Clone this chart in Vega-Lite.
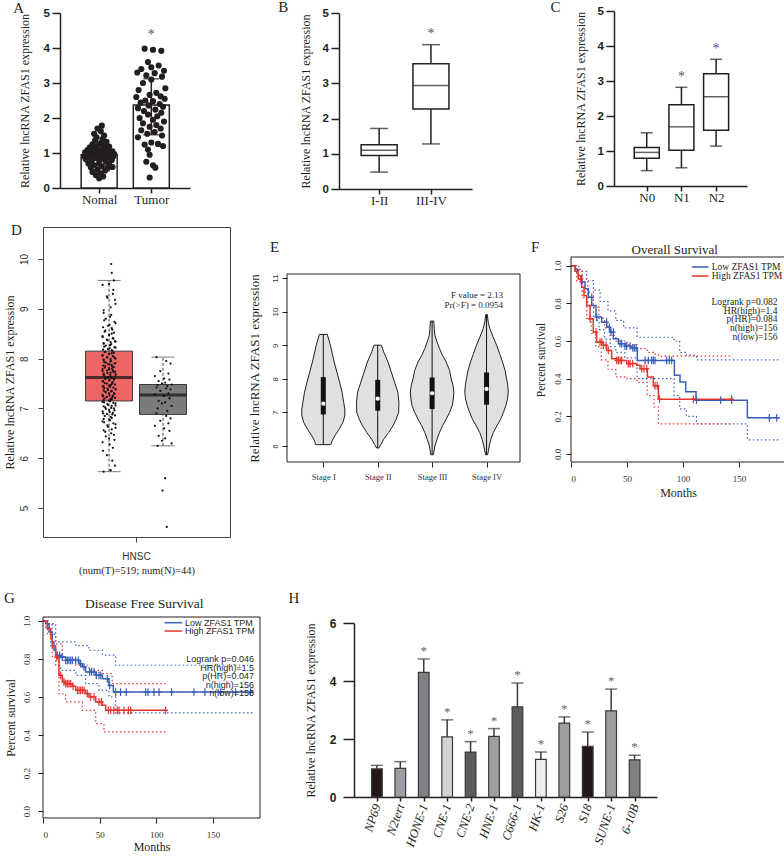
{
"$schema": "https://vega.github.io/schema/vega-lite/v6.json",
"background": "white",
"padding": {"left": 2, "top": 0, "right": 0, "bottom": 0},
"columns": 3,
"align": "each",
"bounds": "flush",
"spacing": {"row": 38, "column": 27},
"resolve": {"scale": {"color": "independent"}},
"config": {
  "view": {"stroke": null},
  "axis": {"grid": false, "labelOverlap": false, "domainColor": "#231f20", "tickColor": "#231f20", "labelColor": "#231f20", "titleColor": "#231f20", "titleFontWeight": "normal"}
},
"datasets": {
  "A_sum": [
    {"group": "Nomal", "pos": 1, "mean": 0.95, "lo": 0.64, "hi": 1.3, "top": 1.78, "sig": ""},
    {"group": "Tumor", "pos": 2, "mean": 2.37, "lo": 1.52, "hi": 3.12, "top": 3.98, "sig": "*"}
  ],
  "A_pts": [
    {"group":"Nomal","value":0.28,"x":1.0},{"group":"Nomal","value":0.33,"x":1.077},{"group":"Nomal","value":0.37,"x":0.936},{"group":"Nomal","value":0.42,"x":1.032},{"group":"Nomal","value":0.46,"x":0.872},{"group":"Nomal","value":0.5,"x":1.115},{"group":"Nomal","value":0.53,"x":0.968},{"group":"Nomal","value":0.56,"x":1.16},{"group":"Nomal","value":0.59,"x":0.84},{"group":"Nomal","value":0.62,"x":1.051},{"group":"Nomal","value":0.65,"x":0.904},{"group":"Nomal","value":0.68,"x":1.192},{"group":"Nomal","value":0.7,"x":0.795},{"group":"Nomal","value":0.72,"x":1.0},{"group":"Nomal","value":0.75,"x":1.128},{"group":"Nomal","value":0.77,"x":0.859},{"group":"Nomal","value":0.8,"x":1.243},{"group":"Nomal","value":0.82,"x":0.744},{"group":"Nomal","value":0.84,"x":1.064},{"group":"Nomal","value":0.86,"x":0.949},{"group":"Nomal","value":0.88,"x":1.179},{"group":"Nomal","value":0.89,"x":0.808},{"group":"Nomal","value":0.9,"x":1.269},{"group":"Nomal","value":0.91,"x":0.712},{"group":"Nomal","value":0.92,"x":1.096},{"group":"Nomal","value":0.93,"x":0.885},{"group":"Nomal","value":0.94,"x":1.224},{"group":"Nomal","value":0.95,"x":0.757},{"group":"Nomal","value":0.96,"x":1.013},{"group":"Nomal","value":0.97,"x":1.288},{"group":"Nomal","value":0.98,"x":0.821},{"group":"Nomal","value":0.99,"x":1.141},{"group":"Nomal","value":1.0,"x":0.936},{"group":"Nomal","value":1.01,"x":1.205},{"group":"Nomal","value":1.02,"x":0.731},{"group":"Nomal","value":1.03,"x":1.051},{"group":"Nomal","value":1.04,"x":0.859},{"group":"Nomal","value":1.05,"x":1.256},{"group":"Nomal","value":1.06,"x":1.0},{"group":"Nomal","value":1.08,"x":0.776},{"group":"Nomal","value":1.1,"x":1.16},{"group":"Nomal","value":1.12,"x":0.904},{"group":"Nomal","value":1.14,"x":1.077},{"group":"Nomal","value":1.16,"x":0.821},{"group":"Nomal","value":1.18,"x":1.192},{"group":"Nomal","value":1.2,"x":0.968},{"group":"Nomal","value":1.22,"x":1.115},{"group":"Nomal","value":1.25,"x":0.872},{"group":"Nomal","value":1.28,"x":1.032},{"group":"Nomal","value":1.32,"x":1.141},{"group":"Nomal","value":1.36,"x":0.923},{"group":"Nomal","value":1.4,"x":1.064},{"group":"Nomal","value":1.45,"x":0.949},{"group":"Nomal","value":1.5,"x":1.096},{"group":"Nomal","value":1.55,"x":0.904},{"group":"Nomal","value":1.62,"x":1.032},{"group":"Nomal","value":1.7,"x":0.968},{"group":"Nomal","value":1.78,"x":1.051},{"group":"Nomal","value":0.6,"x":1.256},{"group":"Nomal","value":1.0,"x":1.096},
    {"group":"Tumor","value":3.98,"x":1.872},{"group":"Tumor","value":3.95,"x":2.032},{"group":"Tumor","value":3.92,"x":2.192},{"group":"Tumor","value":3.6,"x":1.936},{"group":"Tumor","value":3.5,"x":2.141},{"group":"Tumor","value":3.4,"x":1.808},{"group":"Tumor","value":3.35,"x":2.243},{"group":"Tumor","value":3.3,"x":1.731},{"group":"Tumor","value":3.28,"x":2.064},{"group":"Tumor","value":3.22,"x":1.904},{"group":"Tumor","value":3.18,"x":2.205},{"group":"Tumor","value":3.1,"x":2.0},{"group":"Tumor","value":3.0,"x":1.84},{"group":"Tumor","value":2.85,"x":2.269},{"group":"Tumor","value":2.8,"x":1.757},{"group":"Tumor","value":2.72,"x":2.096},{"group":"Tumor","value":2.66,"x":1.968},{"group":"Tumor","value":2.62,"x":2.179},{"group":"Tumor","value":2.6,"x":1.712},{"group":"Tumor","value":2.55,"x":2.256},{"group":"Tumor","value":2.5,"x":1.885},{"group":"Tumor","value":2.48,"x":2.032},{"group":"Tumor","value":2.44,"x":1.795},{"group":"Tumor","value":2.4,"x":2.16},{"group":"Tumor","value":2.36,"x":1.949},{"group":"Tumor","value":2.32,"x":2.224},{"group":"Tumor","value":2.28,"x":1.744},{"group":"Tumor","value":2.24,"x":2.077},{"group":"Tumor","value":2.2,"x":1.859},{"group":"Tumor","value":2.15,"x":2.192},{"group":"Tumor","value":2.1,"x":1.936},{"group":"Tumor","value":2.05,"x":2.115},{"group":"Tumor","value":2.0,"x":1.776},{"group":"Tumor","value":1.95,"x":2.032},{"group":"Tumor","value":1.9,"x":2.243},{"group":"Tumor","value":1.85,"x":1.84},{"group":"Tumor","value":1.8,"x":2.096},{"group":"Tumor","value":1.75,"x":1.968},{"group":"Tumor","value":1.7,"x":2.179},{"group":"Tumor","value":1.65,"x":1.808},{"group":"Tumor","value":1.6,"x":2.064},{"group":"Tumor","value":1.55,"x":1.923},{"group":"Tumor","value":1.5,"x":2.205},{"group":"Tumor","value":1.45,"x":1.744},{"group":"Tumor","value":1.3,"x":2.0},{"group":"Tumor","value":1.26,"x":2.128},{"group":"Tumor","value":1.24,"x":1.872},{"group":"Tumor","value":1.2,"x":2.224},{"group":"Tumor","value":1.1,"x":1.936},{"group":"Tumor","value":0.95,"x":1.968},{"group":"Tumor","value":0.75,"x":1.904},{"group":"Tumor","value":0.65,"x":2.032},{"group":"Tumor","value":0.58,"x":2.077},{"group":"Tumor","value":0.3,"x":1.968},{"group":"Tumor","value":3.45,"x":2.0}
  ],
  "B": [
    {"stage": "I-II", "pos": 1, "min": 0.48, "q1": 0.95, "med": 1.1, "q3": 1.26, "max": 1.72, "sig": ""},
    {"stage": "III-IV", "pos": 2, "min": 1.28, "q1": 2.27, "med": 2.94, "q3": 3.56, "max": 4.1, "sig": "*"}
  ],
  "C": [
    {"n": "N0", "pos": 1, "min": 0.44, "q1": 0.79, "med": 0.96, "q3": 1.1, "max": 1.52, "sig": ""},
    {"n": "N1", "pos": 2, "min": 0.52, "q1": 1.02, "med": 1.69, "q3": 2.32, "max": 2.82, "sig": "*"},
    {"n": "N2", "pos": 3, "min": 1.14, "q1": 1.59, "med": 2.55, "q3": 3.21, "max": 3.62, "sig": "*"}
  ],
  "D_box": [
    {"type": "Tumor", "pos": 1, "min": 5.73, "q1": 7.15, "med": 7.62, "q3": 8.15, "max": 9.57},
    {"type": "Normal", "pos": 2, "min": 6.25, "q1": 6.88, "med": 7.27, "q3": 7.48, "max": 8.03}
  ],
  "D_pts": [
    {"type":"Tumor","value":5.73,"x":0.9},{"type":"Tumor","value":5.76,"x":1.03},{"type":"Tumor","value":5.85,"x":1.11},{"type":"Tumor","value":6.06,"x":0.96},{"type":"Tumor","value":6.21,"x":1.07},{"type":"Tumor","value":6.32,"x":0.88},{"type":"Tumor","value":6.4,"x":1.0},{"type":"Tumor","value":6.47,"x":1.09},{"type":"Tumor","value":6.53,"x":0.93},{"type":"Tumor","value":6.58,"x":1.05},{"type":"Tumor","value":6.63,"x":0.98},{"type":"Tumor","value":6.68,"x":1.12},{"type":"Tumor","value":6.72,"x":0.91},{"type":"Tumor","value":6.76,"x":1.02},
    {"type":"Tumor","value":6.79,"x":0.9},{"type":"Tumor","value":6.83,"x":1.03},{"type":"Tumor","value":6.86,"x":1.11},{"type":"Tumor","value":6.89,"x":0.96},{"type":"Tumor","value":6.91,"x":1.07},{"type":"Tumor","value":6.94,"x":0.88},{"type":"Tumor","value":6.97,"x":1.0},{"type":"Tumor","value":7.0,"x":1.09},{"type":"Tumor","value":7.02,"x":0.93},{"type":"Tumor","value":7.05,"x":1.05},{"type":"Tumor","value":7.07,"x":0.98},{"type":"Tumor","value":7.1,"x":1.12},{"type":"Tumor","value":7.12,"x":0.91},{"type":"Tumor","value":7.14,"x":1.02},
    {"type":"Tumor","value":7.17,"x":0.9},{"type":"Tumor","value":7.19,"x":1.03},{"type":"Tumor","value":7.21,"x":1.11},{"type":"Tumor","value":7.23,"x":0.96},{"type":"Tumor","value":7.25,"x":1.07},{"type":"Tumor","value":7.27,"x":0.88},{"type":"Tumor","value":7.3,"x":1.0},{"type":"Tumor","value":7.31,"x":1.09},{"type":"Tumor","value":7.33,"x":0.93},{"type":"Tumor","value":7.35,"x":1.05},{"type":"Tumor","value":7.37,"x":0.98},{"type":"Tumor","value":7.39,"x":1.12},{"type":"Tumor","value":7.41,"x":0.91},{"type":"Tumor","value":7.43,"x":1.02},
    {"type":"Tumor","value":7.45,"x":0.9},{"type":"Tumor","value":7.47,"x":1.03},{"type":"Tumor","value":7.48,"x":1.11},{"type":"Tumor","value":7.5,"x":0.96},{"type":"Tumor","value":7.52,"x":1.07},{"type":"Tumor","value":7.54,"x":0.88},{"type":"Tumor","value":7.56,"x":1.0},{"type":"Tumor","value":7.58,"x":1.09},{"type":"Tumor","value":7.59,"x":0.93},{"type":"Tumor","value":7.61,"x":1.05},{"type":"Tumor","value":7.63,"x":0.98},{"type":"Tumor","value":7.65,"x":1.12},{"type":"Tumor","value":7.66,"x":0.91},{"type":"Tumor","value":7.68,"x":1.02},
    {"type":"Tumor","value":7.7,"x":0.9},{"type":"Tumor","value":7.72,"x":1.03},{"type":"Tumor","value":7.74,"x":1.11},{"type":"Tumor","value":7.76,"x":0.96},{"type":"Tumor","value":7.77,"x":1.07},{"type":"Tumor","value":7.79,"x":0.88},{"type":"Tumor","value":7.81,"x":1.0},{"type":"Tumor","value":7.83,"x":1.09},{"type":"Tumor","value":7.85,"x":0.93},{"type":"Tumor","value":7.87,"x":1.05},{"type":"Tumor","value":7.89,"x":0.98},{"type":"Tumor","value":7.91,"x":1.12},{"type":"Tumor","value":7.93,"x":0.91},{"type":"Tumor","value":7.94,"x":1.02},
    {"type":"Tumor","value":7.97,"x":0.9},{"type":"Tumor","value":7.99,"x":1.03},{"type":"Tumor","value":8.01,"x":1.11},{"type":"Tumor","value":8.03,"x":0.96},{"type":"Tumor","value":8.05,"x":1.07},{"type":"Tumor","value":8.07,"x":0.88},{"type":"Tumor","value":8.1,"x":1.0},{"type":"Tumor","value":8.12,"x":1.09},{"type":"Tumor","value":8.14,"x":0.93},{"type":"Tumor","value":8.17,"x":1.05},{"type":"Tumor","value":8.19,"x":0.98},{"type":"Tumor","value":8.22,"x":1.12},{"type":"Tumor","value":8.24,"x":0.91},{"type":"Tumor","value":8.27,"x":1.02},
    {"type":"Tumor","value":8.3,"x":0.9},{"type":"Tumor","value":8.33,"x":1.03},{"type":"Tumor","value":8.35,"x":1.11},{"type":"Tumor","value":8.38,"x":0.96},{"type":"Tumor","value":8.41,"x":1.07},{"type":"Tumor","value":8.45,"x":0.88},{"type":"Tumor","value":8.48,"x":1.0},{"type":"Tumor","value":8.52,"x":1.09},{"type":"Tumor","value":8.56,"x":0.93},{"type":"Tumor","value":8.61,"x":1.05},{"type":"Tumor","value":8.66,"x":0.98},{"type":"Tumor","value":8.71,"x":1.12},{"type":"Tumor","value":8.77,"x":0.91},{"type":"Tumor","value":8.84,"x":1.02},
    {"type":"Tumor","value":8.92,"x":0.9},{"type":"Tumor","value":9.03,"x":1.03},{"type":"Tumor","value":9.18,"x":1.11},{"type":"Tumor","value":9.25,"x":0.96},{"type":"Tumor","value":9.3,"x":1.07},{"type":"Tumor","value":9.48,"x":0.88},{"type":"Tumor","value":9.5,"x":1.0},{"type":"Tumor","value":9.57,"x":1.09},{"type":"Tumor","value":9.72,"x":1.05},{"type":"Tumor","value":9.9,"x":1.04},
    {"type":"Tumor","value":5.95,"x":1.06},{"type":"Tumor","value":6.15,"x":0.89},{"type":"Tumor","value":6.28,"x":1.01},{"type":"Tumor","value":6.37,"x":1.1},{"type":"Tumor","value":6.44,"x":0.94},{"type":"Tumor","value":6.5,"x":1.04},{"type":"Tumor","value":6.56,"x":0.9},{"type":"Tumor","value":6.61,"x":1.12},{"type":"Tumor","value":6.66,"x":0.97},{"type":"Tumor","value":6.7,"x":1.08},{"type":"Tumor","value":6.74,"x":0.88},{"type":"Tumor","value":6.78,"x":1.0},{"type":"Tumor","value":6.81,"x":1.05},{"type":"Tumor","value":6.85,"x":0.92},
    {"type":"Tumor","value":6.88,"x":1.06},{"type":"Tumor","value":6.9,"x":0.89},{"type":"Tumor","value":6.93,"x":1.01},{"type":"Tumor","value":6.96,"x":1.1},{"type":"Tumor","value":6.99,"x":0.94},{"type":"Tumor","value":7.01,"x":1.04},{"type":"Tumor","value":7.04,"x":0.9},{"type":"Tumor","value":7.06,"x":1.12},{"type":"Tumor","value":7.09,"x":0.97},{"type":"Tumor","value":7.11,"x":1.08},{"type":"Tumor","value":7.13,"x":0.88},{"type":"Tumor","value":7.16,"x":1.0},{"type":"Tumor","value":7.18,"x":1.05},{"type":"Tumor","value":7.2,"x":0.92},
    {"type":"Tumor","value":7.22,"x":1.06},{"type":"Tumor","value":7.24,"x":0.89},{"type":"Tumor","value":7.26,"x":1.01},{"type":"Tumor","value":7.29,"x":1.1},{"type":"Tumor","value":7.32,"x":0.94},{"type":"Tumor","value":7.34,"x":1.04},{"type":"Tumor","value":7.36,"x":0.9},{"type":"Tumor","value":7.38,"x":1.12},{"type":"Tumor","value":7.4,"x":0.97},{"type":"Tumor","value":7.42,"x":1.08},{"type":"Tumor","value":7.44,"x":0.88},{"type":"Tumor","value":7.46,"x":1.0},{"type":"Tumor","value":7.49,"x":1.05},{"type":"Tumor","value":7.51,"x":0.92},
    {"type":"Tumor","value":7.53,"x":1.06},{"type":"Tumor","value":7.55,"x":0.89},{"type":"Tumor","value":7.57,"x":1.01},{"type":"Tumor","value":7.6,"x":1.1},{"type":"Tumor","value":7.62,"x":0.94},{"type":"Tumor","value":7.64,"x":1.04},{"type":"Tumor","value":7.67,"x":0.9},{"type":"Tumor","value":7.69,"x":1.12},{"type":"Tumor","value":7.71,"x":0.97},{"type":"Tumor","value":7.73,"x":1.08},{"type":"Tumor","value":7.75,"x":0.88},{"type":"Tumor","value":7.78,"x":1.0},{"type":"Tumor","value":7.8,"x":1.05},{"type":"Tumor","value":7.82,"x":0.92},
    {"type":"Tumor","value":7.84,"x":1.06},{"type":"Tumor","value":7.86,"x":0.89},{"type":"Tumor","value":7.88,"x":1.01},{"type":"Tumor","value":7.9,"x":1.1},{"type":"Tumor","value":7.92,"x":0.94},{"type":"Tumor","value":7.95,"x":1.04},{"type":"Tumor","value":7.98,"x":0.9},{"type":"Tumor","value":8.0,"x":1.12},{"type":"Tumor","value":8.02,"x":0.97},{"type":"Tumor","value":8.04,"x":1.08},{"type":"Tumor","value":8.06,"x":0.88},{"type":"Tumor","value":8.09,"x":1.0},{"type":"Tumor","value":8.11,"x":1.05},{"type":"Tumor","value":8.13,"x":0.92},
    {"type":"Tumor","value":8.16,"x":1.06},{"type":"Tumor","value":8.18,"x":0.89},{"type":"Tumor","value":8.21,"x":1.01},{"type":"Tumor","value":8.23,"x":1.1},{"type":"Tumor","value":8.26,"x":0.94},{"type":"Tumor","value":8.29,"x":1.04},{"type":"Tumor","value":8.31,"x":0.9},{"type":"Tumor","value":8.34,"x":1.12},{"type":"Tumor","value":8.37,"x":0.97},{"type":"Tumor","value":8.4,"x":1.08},{"type":"Tumor","value":8.43,"x":0.88},{"type":"Tumor","value":8.47,"x":1.0},{"type":"Tumor","value":8.5,"x":1.05},{"type":"Tumor","value":8.54,"x":0.92},
    {"type":"Tumor","value":8.58,"x":1.06},{"type":"Tumor","value":8.63,"x":0.89},{"type":"Tumor","value":8.68,"x":1.01},{"type":"Tumor","value":8.74,"x":1.1},{"type":"Tumor","value":8.8,"x":0.94},{"type":"Tumor","value":8.88,"x":1.04},{"type":"Tumor","value":8.97,"x":0.9},{"type":"Tumor","value":9.1,"x":1.12},{"type":"Tumor","value":9.22,"x":0.97},{"type":"Tumor","value":9.38,"x":1.08},
    {"type":"Normal","value":8.03,"x":1.88},{"type":"Normal","value":7.95,"x":2.06},{"type":"Normal","value":7.9,"x":2.14},{"type":"Normal","value":7.75,"x":1.95},{"type":"Normal","value":7.7,"x":2.1},{"type":"Normal","value":7.65,"x":1.85},{"type":"Normal","value":7.6,"x":2.02},{"type":"Normal","value":7.58,"x":2.12},{"type":"Normal","value":7.55,"x":1.92},{"type":"Normal","value":7.52,"x":2.04},{"type":"Normal","value":7.5,"x":1.98},{"type":"Normal","value":7.48,"x":2.16},{"type":"Normal","value":7.47,"x":1.9},{"type":"Normal","value":7.45,"x":2.08},
    {"type":"Normal","value":7.42,"x":1.88},{"type":"Normal","value":7.4,"x":2.06},{"type":"Normal","value":7.38,"x":2.14},{"type":"Normal","value":7.35,"x":1.95},{"type":"Normal","value":7.3,"x":2.1},{"type":"Normal","value":7.28,"x":1.85},{"type":"Normal","value":7.25,"x":2.02},{"type":"Normal","value":7.2,"x":2.12},{"type":"Normal","value":7.15,"x":1.92},{"type":"Normal","value":7.12,"x":2.04},{"type":"Normal","value":7.1,"x":1.98},{"type":"Normal","value":7.05,"x":2.16},{"type":"Normal","value":7.0,"x":1.9},{"type":"Normal","value":6.95,"x":2.08},
    {"type":"Normal","value":6.9,"x":1.88},{"type":"Normal","value":6.85,"x":2.06},{"type":"Normal","value":6.8,"x":2.14},{"type":"Normal","value":6.75,"x":1.95},{"type":"Normal","value":6.7,"x":2.1},{"type":"Normal","value":6.65,"x":1.85},{"type":"Normal","value":6.6,"x":2.02},{"type":"Normal","value":6.55,"x":2.12},{"type":"Normal","value":6.45,"x":1.92},{"type":"Normal","value":6.4,"x":2.04},{"type":"Normal","value":6.35,"x":1.98},{"type":"Normal","value":6.3,"x":2.16},{"type":"Normal","value":6.25,"x":1.9},{"type":"Normal","value":5.6,"x":2.04},{"type":"Normal","value":5.35,"x":1.99},{"type":"Normal","value":4.62,"x":2.07}
  ],
  "E_violin": [
    {"s":1,"v":9.32,"left":0.926,"right":1.074},{"s":1,"v":9.0,"left":0.87,"right":1.13},{"s":1,"v":8.5,"left":0.8,"right":1.2},{"s":1,"v":8.2,"left":0.75,"right":1.25},{"s":1,"v":7.9,"left":0.7,"right":1.3},{"s":1,"v":7.6,"left":0.655,"right":1.345},{"s":1,"v":7.3,"left":0.625,"right":1.375},{"s":1,"v":7.1,"left":0.605,"right":1.395},{"s":1,"v":6.9,"left":0.605,"right":1.395},{"s":1,"v":6.7,"left":0.64,"right":1.36},{"s":1,"v":6.5,"left":0.71,"right":1.29},{"s":1,"v":6.3,"left":0.79,"right":1.21},{"s":1,"v":6.15,"left":0.84,"right":1.16},{"s":1,"v":6.04,"left":0.86,"right":1.14},
    {"s":2,"v":9.0,"left":1.933,"right":2.067},{"s":2,"v":8.8,"left":1.89,"right":2.11},{"s":2,"v":8.5,"left":1.81,"right":2.19},{"s":2,"v":8.2,"left":1.75,"right":2.25},{"s":2,"v":7.9,"left":1.69,"right":2.31},{"s":2,"v":7.6,"left":1.63,"right":2.37},{"s":2,"v":7.3,"left":1.61,"right":2.39},{"s":2,"v":7.0,"left":1.615,"right":2.385},{"s":2,"v":6.8,"left":1.66,"right":2.34},{"s":2,"v":6.6,"left":1.72,"right":2.28},{"s":2,"v":6.4,"left":1.8,"right":2.2},{"s":2,"v":6.2,"left":1.89,"right":2.11},{"s":2,"v":6.05,"left":1.94,"right":2.06},{"s":2,"v":5.94,"left":1.98,"right":2.02},
    {"s":3,"v":9.72,"left":2.97,"right":3.03},{"s":3,"v":9.5,"left":2.96,"right":3.04},{"s":3,"v":9.3,"left":2.95,"right":3.05},{"s":3,"v":9.1,"left":2.91,"right":3.09},{"s":3,"v":8.9,"left":2.865,"right":3.135},{"s":3,"v":8.7,"left":2.81,"right":3.19},{"s":3,"v":8.5,"left":2.74,"right":3.26},{"s":3,"v":8.25,"left":2.68,"right":3.32},{"s":3,"v":8.0,"left":2.65,"right":3.35},{"s":3,"v":7.8,"left":2.615,"right":3.385},{"s":3,"v":7.6,"left":2.6,"right":3.4},{"s":3,"v":7.4,"left":2.61,"right":3.39},{"s":3,"v":7.2,"left":2.63,"right":3.37},{"s":3,"v":7.0,"left":2.68,"right":3.32},{"s":3,"v":6.8,"left":2.74,"right":3.26},{"s":3,"v":6.6,"left":2.81,"right":3.19},{"s":3,"v":6.4,"left":2.865,"right":3.135},{"s":3,"v":6.2,"left":2.91,"right":3.09},{"s":3,"v":6.0,"left":2.95,"right":3.05},{"s":3,"v":5.74,"left":2.975,"right":3.025},
    {"s":4,"v":9.91,"left":3.985,"right":4.015},{"s":4,"v":9.7,"left":3.97,"right":4.03},{"s":4,"v":9.5,"left":3.94,"right":4.06},{"s":4,"v":9.25,"left":3.88,"right":4.12},{"s":4,"v":9.0,"left":3.815,"right":4.185},{"s":4,"v":8.75,"left":3.76,"right":4.24},{"s":4,"v":8.5,"left":3.705,"right":4.295},{"s":4,"v":8.25,"left":3.66,"right":4.34},{"s":4,"v":8.0,"left":3.63,"right":4.37},{"s":4,"v":7.8,"left":3.61,"right":4.39},{"s":4,"v":7.6,"left":3.6,"right":4.4},{"s":4,"v":7.4,"left":3.615,"right":4.385},{"s":4,"v":7.2,"left":3.645,"right":4.355},{"s":4,"v":7.0,"left":3.69,"right":4.31},{"s":4,"v":6.8,"left":3.74,"right":4.26},{"s":4,"v":6.6,"left":3.81,"right":4.19},{"s":4,"v":6.4,"left":3.875,"right":4.125},{"s":4,"v":6.2,"left":3.92,"right":4.08},{"s":4,"v":6.0,"left":3.95,"right":4.05},{"s":4,"v":5.74,"left":3.98,"right":4.02}
  ],
  "E_box": [
    {"s":1,"min":6.04,"q1":6.94,"med":7.26,"q3":8.05,"max":9.32},
    {"s":2,"min":5.94,"q1":7.05,"med":7.41,"q3":7.97,"max":9.0},
    {"s":3,"min":5.74,"q1":7.1,"med":7.57,"q3":8.04,"max":9.72},
    {"s":4,"min":5.74,"q1":7.23,"med":7.7,"q3":8.19,"max":9.91}
  ],
  "F_lines": [
    {"g":"Low","b":"est","m":0,"s":1},{"g":"Low","b":"est","m":3.6,"s":0.979},{"g":"Low","b":"est","m":6.5,"s":0.947},{"g":"Low","b":"est","m":9.5,"s":0.915},{"g":"Low","b":"est","m":12.5,"s":0.877},{"g":"Low","b":"est","m":15.5,"s":0.832},{"g":"Low","b":"est","m":18.5,"s":0.788},{"g":"Low","b":"est","m":22.3,"s":0.727},{"g":"Low","b":"est","m":27.4,"s":0.7},{"g":"Low","b":"est","m":31.8,"s":0.674},{"g":"Low","b":"est","m":34.8,"s":0.647},{"g":"Low","b":"est","m":37.8,"s":0.612},{"g":"Low","b":"est","m":42.3,"s":0.586},{"g":"Low","b":"est","m":48.2,"s":0.573},{"g":"Low","b":"est","m":53.3,"s":0.563},{"g":"Low","b":"est","m":59.2,"s":0.497},{"g":"Low","b":"est","m":92.3,"s":0.418},{"g":"Low","b":"est","m":97.3,"s":0.383},{"g":"Low","b":"est","m":102.4,"s":0.33},{"g":"Low","b":"est","m":111.6,"s":0.286},{"g":"Low","b":"est","m":157.4,"s":0.192},{"g":"Low","b":"est","m":186.6,"s":0.192},
    {"g":"High","b":"est","m":0,"s":1},{"g":"High","b":"est","m":3.6,"s":0.97},{"g":"High","b":"est","m":6.5,"s":0.929},{"g":"High","b":"est","m":9.5,"s":0.885},{"g":"High","b":"est","m":11.6,"s":0.841},{"g":"High","b":"est","m":14,"s":0.788},{"g":"High","b":"est","m":17,"s":0.718},{"g":"High","b":"est","m":19.9,"s":0.647},{"g":"High","b":"est","m":22.9,"s":0.594},{"g":"High","b":"est","m":28.9,"s":0.577},{"g":"High","b":"est","m":31.8,"s":0.55},{"g":"High","b":"est","m":36.3,"s":0.506},{"g":"High","b":"est","m":40.8,"s":0.497},{"g":"High","b":"est","m":49.7,"s":0.48},{"g":"High","b":"est","m":58.6,"s":0.471},{"g":"High","b":"est","m":61.6,"s":0.453},{"g":"High","b":"est","m":68.2,"s":0.409},{"g":"High","b":"est","m":73.5,"s":0.362},{"g":"High","b":"est","m":78,"s":0.291},{"g":"High","b":"est","m":143.3,"s":0.291},
    {"g":"Low","b":"upper","m":0,"s":1},{"g":"Low","b":"upper","m":7,"s":0.97},{"g":"Low","b":"upper","m":14,"s":0.92},{"g":"Low","b":"upper","m":20,"s":0.87},{"g":"Low","b":"upper","m":26,"s":0.81},{"g":"Low","b":"upper","m":33,"s":0.76},{"g":"Low","b":"upper","m":40,"s":0.71},{"g":"Low","b":"upper","m":47,"s":0.67},{"g":"Low","b":"upper","m":59,"s":0.62},{"g":"Low","b":"upper","m":92,"s":0.6},{"g":"Low","b":"upper","m":97,"s":0.54},{"g":"Low","b":"upper","m":103,"s":0.525},{"g":"Low","b":"upper","m":112,"s":0.5},{"g":"Low","b":"upper","m":186.6,"s":0.5},
    {"g":"Low","b":"lower","m":0,"s":1},{"g":"Low","b":"lower","m":5,"s":0.95},{"g":"Low","b":"lower","m":10,"s":0.86},{"g":"Low","b":"lower","m":15,"s":0.78},{"g":"Low","b":"lower","m":20,"s":0.71},{"g":"Low","b":"lower","m":25,"s":0.66},{"g":"Low","b":"lower","m":30,"s":0.61},{"g":"Low","b":"lower","m":35,"s":0.57},{"g":"Low","b":"lower","m":40,"s":0.54},{"g":"Low","b":"lower","m":48,"s":0.51},{"g":"Low","b":"lower","m":59,"s":0.4},{"g":"Low","b":"lower","m":92,"s":0.31},{"g":"Low","b":"lower","m":97,"s":0.24},{"g":"Low","b":"lower","m":103,"s":0.2},{"g":"Low","b":"lower","m":112,"s":0.16},{"g":"Low","b":"lower","m":157.4,"s":0.075},{"g":"Low","b":"lower","m":186.6,"s":0.075},
    {"g":"High","b":"upper","m":0,"s":1},{"g":"High","b":"upper","m":5,"s":0.98},{"g":"High","b":"upper","m":10,"s":0.93},{"g":"High","b":"upper","m":15,"s":0.86},{"g":"High","b":"upper","m":20,"s":0.78},{"g":"High","b":"upper","m":25,"s":0.72},{"g":"High","b":"upper","m":30,"s":0.67},{"g":"High","b":"upper","m":35,"s":0.63},{"g":"High","b":"upper","m":40,"s":0.6},{"g":"High","b":"upper","m":50,"s":0.58},{"g":"High","b":"upper","m":59,"s":0.56},{"g":"High","b":"upper","m":68,"s":0.54},{"g":"High","b":"upper","m":74,"s":0.53},{"g":"High","b":"upper","m":78,"s":0.52},{"g":"High","b":"upper","m":143.3,"s":0.52},
    {"g":"High","b":"lower","m":0,"s":1},{"g":"High","b":"lower","m":5,"s":0.92},{"g":"High","b":"lower","m":10,"s":0.83},{"g":"High","b":"lower","m":14,"s":0.72},{"g":"High","b":"lower","m":18,"s":0.64},{"g":"High","b":"lower","m":22,"s":0.57},{"g":"High","b":"lower","m":27,"s":0.5},{"g":"High","b":"lower","m":33,"s":0.45},{"g":"High","b":"lower","m":40,"s":0.41},{"g":"High","b":"lower","m":50,"s":0.4},{"g":"High","b":"lower","m":59,"s":0.38},{"g":"High","b":"lower","m":68,"s":0.31},{"g":"High","b":"lower","m":74,"s":0.25},{"g":"High","b":"lower","m":78,"s":0.16},{"g":"High","b":"lower","m":143.3,"s":0.16}
  ],
  "F_cens": [
    {"g":"Low","m":9.5,"s":0.915},{"g":"Low","m":18.5,"s":0.832},{"g":"Low","m":22.9,"s":0.727},{"g":"Low","m":31.8,"s":0.7},{"g":"Low","m":34.2,"s":0.674},{"g":"Low","m":35.7,"s":0.647},{"g":"Low","m":37.8,"s":0.647},{"g":"Low","m":43.8,"s":0.586},{"g":"Low","m":45.2,"s":0.586},{"g":"Low","m":48.2,"s":0.573},{"g":"Low","m":49.7,"s":0.573},{"g":"Low","m":52.7,"s":0.573},{"g":"Low","m":55.1,"s":0.563},{"g":"Low","m":56.5,"s":0.563},{"g":"Low","m":58,"s":0.563},{"g":"Low","m":66.1,"s":0.497},{"g":"Low","m":69,"s":0.497},{"g":"Low","m":72,"s":0.497},{"g":"Low","m":73.5,"s":0.497},{"g":"Low","m":75,"s":0.497},{"g":"Low","m":85.4,"s":0.497},{"g":"Low","m":87.8,"s":0.497},{"g":"Low","m":89.9,"s":0.497},{"g":"Low","m":112,"s":0.286},{"g":"Low","m":133.6,"s":0.286},{"g":"Low","m":143.4,"s":0.286},{"g":"Low","m":177,"s":0.192},{"g":"Low","m":183.6,"s":0.192},
    {"g":"High","m":8.6,"s":0.929},{"g":"High","m":17,"s":0.718},{"g":"High","m":22.3,"s":0.647},{"g":"High","m":25.9,"s":0.594},{"g":"High","m":27.4,"s":0.594},{"g":"High","m":28.9,"s":0.577},{"g":"High","m":31.3,"s":0.577},{"g":"High","m":33.3,"s":0.55},{"g":"High","m":40.8,"s":0.497},{"g":"High","m":42.3,"s":0.497},{"g":"High","m":43.8,"s":0.497},{"g":"High","m":45.2,"s":0.497},{"g":"High","m":51.2,"s":0.48},{"g":"High","m":52.7,"s":0.48},{"g":"High","m":55.1,"s":0.48},{"g":"High","m":63.1,"s":0.453},{"g":"High","m":65.2,"s":0.453},{"g":"High","m":67.6,"s":0.453},{"g":"High","m":75,"s":0.362},{"g":"High","m":77,"s":0.362},{"g":"High","m":79,"s":0.291},{"g":"High","m":109.3,"s":0.291},{"g":"High","m":143.3,"s":0.291}
  ],
  "G_lines": [
    {"g":"Low","b":"est","m":0,"s":1},{"g":"Low","b":"est","m":2.4,"s":0.986},{"g":"Low","b":"est","m":5.3,"s":0.942},{"g":"Low","b":"est","m":8.2,"s":0.889},{"g":"Low","b":"est","m":9.7,"s":0.846},{"g":"Low","b":"est","m":11.2,"s":0.819},{"g":"Low","b":"est","m":15.6,"s":0.81},{"g":"Low","b":"est","m":20,"s":0.793},{"g":"Low","b":"est","m":31.8,"s":0.775},{"g":"Low","b":"est","m":34.7,"s":0.758},{"g":"Low","b":"est","m":37.6,"s":0.732},{"g":"Low","b":"est","m":46.5,"s":0.714},{"g":"Low","b":"est","m":52.4,"s":0.696},{"g":"Low","b":"est","m":58.2,"s":0.661},{"g":"Low","b":"est","m":62.1,"s":0.626},{"g":"Low","b":"est","m":186.2,"s":0.626},
    {"g":"High","b":"est","m":0,"s":1},{"g":"High","b":"est","m":3.8,"s":0.96},{"g":"High","b":"est","m":6.8,"s":0.907},{"g":"High","b":"est","m":8.2,"s":0.863},{"g":"High","b":"est","m":11.2,"s":0.81},{"g":"High","b":"est","m":14.1,"s":0.714},{"g":"High","b":"est","m":17.1,"s":0.679},{"g":"High","b":"est","m":20,"s":0.67},{"g":"High","b":"est","m":25.9,"s":0.656},{"g":"High","b":"est","m":28.8,"s":0.635},{"g":"High","b":"est","m":37.6,"s":0.618},{"g":"High","b":"est","m":40.6,"s":0.6},{"g":"High","b":"est","m":46.5,"s":0.574},{"g":"High","b":"est","m":52.4,"s":0.556},{"g":"High","b":"est","m":55.3,"s":0.53},{"g":"High","b":"est","m":108.2,"s":0.53},
    {"g":"Low","b":"upper","m":0,"s":1},{"g":"Low","b":"upper","m":5.3,"s":0.98},{"g":"Low","b":"upper","m":8.2,"s":0.93},{"g":"Low","b":"upper","m":11.2,"s":0.89},{"g":"Low","b":"upper","m":29,"s":0.87},{"g":"Low","b":"upper","m":40.6,"s":0.846},{"g":"Low","b":"upper","m":52.4,"s":0.82},{"g":"Low","b":"upper","m":64,"s":0.767},{"g":"Low","b":"upper","m":186.2,"s":0.767},
    {"g":"Low","b":"lower","m":0,"s":1},{"g":"Low","b":"lower","m":2.4,"s":0.965},{"g":"Low","b":"lower","m":6.8,"s":0.87},{"g":"Low","b":"lower","m":11.2,"s":0.767},{"g":"Low","b":"lower","m":15.6,"s":0.74},{"g":"Low","b":"lower","m":29,"s":0.714},{"g":"Low","b":"lower","m":37.6,"s":0.67},{"g":"Low","b":"lower","m":49.4,"s":0.635},{"g":"Low","b":"lower","m":58.2,"s":0.6},{"g":"Low","b":"lower","m":64,"s":0.516},{"g":"Low","b":"lower","m":186.2,"s":0.516},
    {"g":"High","b":"upper","m":0,"s":1},{"g":"High","b":"upper","m":5.3,"s":0.986},{"g":"High","b":"upper","m":11.2,"s":0.88},{"g":"High","b":"upper","m":17.1,"s":0.8},{"g":"High","b":"upper","m":29,"s":0.767},{"g":"High","b":"upper","m":40.6,"s":0.74},{"g":"High","b":"upper","m":52.4,"s":0.723},{"g":"High","b":"upper","m":61,"s":0.67},{"g":"High","b":"upper","m":108.2,"s":0.67},
    {"g":"High","b":"lower","m":0,"s":1},{"g":"High","b":"lower","m":3.8,"s":0.93},{"g":"High","b":"lower","m":8.2,"s":0.81},{"g":"High","b":"lower","m":14.1,"s":0.617},{"g":"High","b":"lower","m":20,"s":0.574},{"g":"High","b":"lower","m":34.7,"s":0.53},{"g":"High","b":"lower","m":46.5,"s":0.46},{"g":"High","b":"lower","m":53.8,"s":0.416},{"g":"High","b":"lower","m":108.2,"s":0.416}
  ],
  "G_cens": [
    {"g":"Low","m":12.6,"s":0.819},{"g":"Low","m":14.7,"s":0.819},{"g":"Low","m":17.1,"s":0.81},{"g":"Low","m":20,"s":0.793},{"g":"Low","m":21.5,"s":0.793},{"g":"Low","m":22.9,"s":0.793},{"g":"Low","m":24.4,"s":0.793},{"g":"Low","m":25.9,"s":0.793},{"g":"Low","m":28.8,"s":0.793},{"g":"Low","m":31.2,"s":0.793},{"g":"Low","m":33.2,"s":0.775},{"g":"Low","m":36.2,"s":0.758},{"g":"Low","m":41.2,"s":0.732},{"g":"Low","m":42.9,"s":0.732},{"g":"Low","m":45,"s":0.732},{"g":"Low","m":47.1,"s":0.714},{"g":"Low","m":49.4,"s":0.714},{"g":"Low","m":50.9,"s":0.714},{"g":"Low","m":56.8,"s":0.696},{"g":"Low","m":58.8,"s":0.661},{"g":"Low","m":64.1,"s":0.626},{"g":"Low","m":68.5,"s":0.626},{"g":"Low","m":73.5,"s":0.626},{"g":"Low","m":90.6,"s":0.626},{"g":"Low","m":92.6,"s":0.626},{"g":"Low","m":97.9,"s":0.626},{"g":"Low","m":102.4,"s":0.626},{"g":"Low","m":113.5,"s":0.626},{"g":"Low","m":133.2,"s":0.626},{"g":"Low","m":142.9,"s":0.626},{"g":"Low","m":156.8,"s":0.626},{"g":"Low","m":170,"s":0.626},{"g":"Low","m":183.2,"s":0.626},
    {"g":"High","m":12.1,"s":0.81},{"g":"High","m":15.6,"s":0.714},{"g":"High","m":18.5,"s":0.679},{"g":"High","m":20,"s":0.67},{"g":"High","m":21.5,"s":0.67},{"g":"High","m":22.9,"s":0.67},{"g":"High","m":24.4,"s":0.67},{"g":"High","m":26.5,"s":0.656},{"g":"High","m":30.3,"s":0.635},{"g":"High","m":31.8,"s":0.635},{"g":"High","m":33.2,"s":0.635},{"g":"High","m":34.7,"s":0.635},{"g":"High","m":36.2,"s":0.635},{"g":"High","m":39.1,"s":0.618},{"g":"High","m":42.1,"s":0.6},{"g":"High","m":45,"s":0.6},{"g":"High","m":49.4,"s":0.574},{"g":"High","m":51.5,"s":0.574},{"g":"High","m":57.6,"s":0.53},{"g":"High","m":59.7,"s":0.53},{"g":"High","m":62.6,"s":0.53},{"g":"High","m":65.6,"s":0.53},{"g":"High","m":67.1,"s":0.53},{"g":"High","m":71.5,"s":0.53},{"g":"High","m":75.3,"s":0.53},{"g":"High","m":77.4,"s":0.53},{"g":"High","m":108.2,"s":0.53}
  ],
  "H": [
    {"line":"NP69","pos":1,"value":0.97,"err":1.09,"sig":""},
    {"line":"N2tert","pos":2,"value":0.99,"err":1.22,"sig":""},
    {"line":"HONE-1","pos":3,"value":4.3,"err":4.76,"sig":"*"},
    {"line":"CNE-1","pos":4,"value":2.07,"err":2.66,"sig":"*"},
    {"line":"CNE-2","pos":5,"value":1.55,"err":1.91,"sig":"*"},
    {"line":"HNE-1","pos":6,"value":2.09,"err":2.36,"sig":"*"},
    {"line":"C666-1","pos":7,"value":3.11,"err":3.93,"sig":"*"},
    {"line":"HK-1","pos":8,"value":1.3,"err":1.55,"sig":"*"},
    {"line":"S26","pos":9,"value":2.55,"err":2.76,"sig":"*"},
    {"line":"S18","pos":10,"value":1.75,"err":2.24,"sig":"*"},
    {"line":"SUNE-1","pos":11,"value":2.97,"err":3.72,"sig":"*"},
    {"line":"6-10B","pos":12,"value":1.28,"err":1.44,"sig":"*"}
  ]
},
"concat": [
  {
    "width": 217, "height": 188,
    "layer": [
      {"data": {"name": "A_sum"},
       "mark": {"type": "bar", "width": 36, "fill": "white", "stroke": "#231f20", "strokeWidth": 1.5},
       "encoding": {
         "x": {"field": "pos", "type": "quantitative",
               "scale": {"domain": [0.345, 2.646], "range": [17, 147], "nice": false, "zero": false},
               "axis": {"title": null, "values": [1, 2], "tickCount": 20, "labelExpr": "datum.value == 1 ? 'Nomal' : 'Tumor'", "labelAngle": 0, "labelFont": "Liberation Serif", "labelFontSize": 13, "tickSize": 5, "tickWidth": 1.5, "domainWidth": 1.5, "labelPadding": 0}},
         "y": {"field": "mean", "type": "quantitative",
               "scale": {"domain": [0, 5], "range": [188, 13], "nice": false, "zero": false},
               "axis": {"title": "Relative lncRNA ZFAS1 expression", "titleFont": "Liberation Serif", "titleFontSize": 12, "titlePadding": 12, "values": [0, 1, 2, 3, 4, 5], "format": "d", "tickCount": 20, "labelOverlap": false, "labelFont": "Liberation Sans", "labelFontWeight": "bold", "labelFontSize": 11.5, "tickSize": 8, "tickWidth": 1.5, "domainWidth": 1.5, "labelPadding": 2.5, "offset": -17}}
       }},
      {"data": {"name": "A_pts"},
       "mark": {"type": "circle", "size": 38, "color": "#231f20", "opacity": 1},
       "encoding": {"x": {"field": "x", "type": "quantitative"}, "y": {"field": "value", "type": "quantitative"}}},
      {"data": {"name": "A_sum"},
       "mark": {"type": "rule", "color": "#231f20", "strokeWidth": 1.5},
       "encoding": {"x": {"field": "pos", "type": "quantitative"}, "y": {"field": "lo", "type": "quantitative"}, "y2": {"field": "hi"}}},
      {"data": {"name": "A_sum"},
       "mark": {"type": "tick", "orient": "horizontal", "color": "#231f20", "size": 16, "thickness": 1.5},
       "encoding": {"x": {"field": "pos", "type": "quantitative"}, "y": {"field": "hi", "type": "quantitative"}}},
      {"data": {"name": "A_sum"},
       "mark": {"type": "tick", "orient": "horizontal", "color": "#231f20", "size": 16, "thickness": 1.5},
       "encoding": {"x": {"field": "pos", "type": "quantitative"}, "y": {"field": "lo", "type": "quantitative"}}},
      {"data": {"name": "A_sum"},
       "mark": {"type": "text", "font": "Liberation Serif", "fontSize": 14, "color": "#555", "baseline": "middle", "dy": -14},
       "encoding": {"x": {"field": "pos", "type": "quantitative"}, "y": {"field": "top", "type": "quantitative"}, "text": {"field": "sig"}}},
      {"data": {"values": [{}]},
       "mark": {"type": "text", "text": "A", "align": "left", "baseline": "alphabetic", "font": "Liberation Serif", "fontSize": 15, "color": "#231f20"},
       "encoding": {"x": {"datum": -0.646}, "y": {"datum": 5.014}}}
    ]
  },
  {
    "width": 218, "height": 189,
    "data": {"name": "B"},
    "layer": [
      {"mark": {"type": "rule", "color": "#231f20", "strokeWidth": 1.5},
       "encoding": {
         "x": {"field": "pos", "type": "quantitative",
               "scale": {"domain": [0.3214, 2.6964], "range": [52, 185], "nice": false, "zero": false},
               "axis": {"title": null, "values": [1, 2], "tickCount": 20, "labelExpr": "datum.value == 1 ? 'I-II' : 'III-IV'", "labelAngle": 0, "labelFont": "Liberation Serif", "labelFontSize": 13, "tickSize": 5, "tickWidth": 1.5, "domainWidth": 1.5, "labelPadding": 0}},
         "y": {"field": "min", "type": "quantitative",
               "scale": {"domain": [0, 5], "range": [189, 13], "nice": false, "zero": false},
               "axis": {"title": "Relative lncRNA ZFAS1 expression", "titleFont": "Liberation Serif", "titleFontSize": 12, "titlePadding": 9.5, "values": [0, 1, 2, 3, 4, 5], "format": "d", "tickCount": 20, "labelOverlap": false, "labelFont": "Liberation Sans", "labelFontWeight": "bold", "labelFontSize": 11.5, "tickSize": 8, "tickWidth": 1.5, "domainWidth": 1.5, "labelPadding": 2.5, "offset": -52}},
         "y2": {"field": "max"}
       }},
      {"mark": {"type": "bar", "width": 36, "fill": "white", "stroke": "#231f20", "strokeWidth": 1.5},
       "encoding": {"x": {"field": "pos", "type": "quantitative"}, "y": {"field": "q1", "type": "quantitative"}, "y2": {"field": "q3"}}},
      {"mark": {"type": "tick", "orient": "horizontal", "color": "#231f20", "size": 36, "thickness": 1.5},
       "encoding": {"x": {"field": "pos", "type": "quantitative"}, "y": {"field": "med", "type": "quantitative"}}},
      {"mark": {"type": "tick", "orient": "horizontal", "color": "#231f20", "size": 18, "thickness": 1.5},
       "encoding": {"x": {"field": "pos", "type": "quantitative"}, "y": {"field": "max", "type": "quantitative"}}},
      {"mark": {"type": "tick", "orient": "horizontal", "color": "#231f20", "size": 18, "thickness": 1.5},
       "encoding": {"x": {"field": "pos", "type": "quantitative"}, "y": {"field": "min", "type": "quantitative"}}},
      {"mark": {"type": "text", "font": "Liberation Serif", "fontSize": 14, "color": "#555", "baseline": "middle", "dy": -10.5},
       "encoding": {"x": {"field": "pos", "type": "quantitative"}, "y": {"field": "max", "type": "quantitative"}, "text": {"field": "sig"}}},
      {"data": {"values": [{}]},
       "mark": {"type": "text", "text": "B", "align": "left", "baseline": "alphabetic", "font": "Liberation Serif", "fontSize": 15, "color": "#231f20"},
       "encoding": {"x": {"datum": -0.946}, "y": {"datum": 5.028}}}
    ]
  },
  {
    "width": 200, "height": 186,
    "data": {"name": "C"},
    "layer": [
      {"mark": {"type": "rule", "color": "#231f20", "strokeWidth": 1.5},
       "encoding": {
         "x": {"field": "pos", "type": "quantitative",
               "scale": {"domain": [0.2, 3.7467], "range": [43, 176], "nice": false, "zero": false},
               "axis": {"title": null, "values": [1, 2, 3], "tickCount": 20, "labelExpr": "['N0','N1','N2'][datum.value-1]", "labelAngle": 0, "labelFont": "Liberation Serif", "labelFontSize": 13, "tickSize": 5, "tickWidth": 1.5, "domainWidth": 1.5, "labelPadding": 0}},
         "y": {"field": "min", "type": "quantitative",
               "scale": {"domain": [0, 5], "range": [186, 11], "nice": false, "zero": false},
               "axis": {"title": "Relative lncRNA ZFAS1 expression", "titleFont": "Liberation Serif", "titleFontSize": 12, "titlePadding": 10, "values": [0, 1, 2, 3, 4, 5], "format": "d", "tickCount": 20, "labelOverlap": false, "labelFont": "Liberation Sans", "labelFontWeight": "bold", "labelFontSize": 11.5, "tickSize": 8, "tickWidth": 1.5, "domainWidth": 1.5, "labelPadding": 2.5, "offset": -43}},
         "y2": {"field": "max"}
       }},
      {"mark": {"type": "bar", "width": 25, "fill": "white", "stroke": "#231f20", "strokeWidth": 1.5},
       "encoding": {"x": {"field": "pos", "type": "quantitative"}, "y": {"field": "q1", "type": "quantitative"}, "y2": {"field": "q3"}}},
      {"mark": {"type": "tick", "orient": "horizontal", "color": "#231f20", "size": 25, "thickness": 1.5},
       "encoding": {"x": {"field": "pos", "type": "quantitative"}, "y": {"field": "med", "type": "quantitative"}}},
      {"mark": {"type": "tick", "orient": "horizontal", "color": "#231f20", "size": 12, "thickness": 1.5},
       "encoding": {"x": {"field": "pos", "type": "quantitative"}, "y": {"field": "max", "type": "quantitative"}}},
      {"mark": {"type": "tick", "orient": "horizontal", "color": "#231f20", "size": 12, "thickness": 1.5},
       "encoding": {"x": {"field": "pos", "type": "quantitative"}, "y": {"field": "min", "type": "quantitative"}}},
      {"mark": {"type": "text", "font": "Liberation Serif", "fontSize": 14, "color": "#555", "baseline": "middle", "dy": -10.5},
       "encoding": {"x": {"field": "pos", "type": "quantitative"}, "y": {"field": "max", "type": "quantitative"}, "text": {"field": "sig"}}},
      {"data": {"values": [{}]},
       "mark": {"type": "text", "text": "C", "align": "left", "baseline": "alphabetic", "font": "Liberation Serif", "fontSize": 15, "color": "#231f20"},
       "encoding": {"x": {"datum": -1.773}, "y": {"datum": 4.971}}}
    ]
  },
  {
    "width": 187, "height": 310,
    "view": {"stroke": "#444", "strokeWidth": 1},
    "layer": [
      {"data": {"name": "D_box"},
       "mark": {"type": "rule", "color": "#444", "strokeWidth": 1, "strokeDash": [3, 2]},
       "encoding": {
         "x": {"field": "pos", "type": "quantitative",
               "scale": {"domain": [-0.1316, 3.1491], "nice": false, "zero": false},
               "axis": {"values": [1.5], "tickCount": 20, "labelExpr": "'HNSC'", "labelAngle": 0, "title": "(num(T)=519; num(N)=44)", "titleFont": "Liberation Serif", "titleFontSize": 10.5, "titlePadding": 4, "labelFont": "Liberation Sans", "labelFontSize": 10, "labelColor": "#333", "labelPadding": 9, "tickSize": 5, "tickColor": "#444", "domain": false}},
         "y": {"field": "min", "type": "quantitative",
               "scale": {"domain": [4.418, 10.643], "nice": false, "zero": false},
               "axis": {"values": [5, 6, 7, 8, 9, 10], "format": "d", "tickCount": 20, "labelAngle": 270, "labelAlign": "center", "labelBaseline": "bottom", "labelFont": "Liberation Sans", "labelFontSize": 10, "labelColor": "#333", "labelPadding": 9, "tickSize": 5, "tickColor": "#444", "domain": false, "title": "Relative lncRNA ZFAS1 expression", "titleFont": "Liberation Serif", "titleFontSize": 12, "titlePadding": 3}},
         "y2": {"field": "max"}
       }},
      {"data": {"name": "D_box"},
       "mark": {"type": "bar", "width": 47, "stroke": "#3a3a3a", "strokeWidth": 1},
       "encoding": {"x": {"field": "pos", "type": "quantitative"}, "y": {"field": "q1", "type": "quantitative"}, "y2": {"field": "q3"},
                    "color": {"field": "type", "type": "nominal", "scale": {"domain": ["Tumor", "Normal"], "range": ["#ec6666", "#7b7b7b"]}, "legend": null}}},
      {"data": {"name": "D_box"},
       "mark": {"type": "tick", "orient": "horizontal", "color": "#111", "size": 47, "thickness": 3},
       "encoding": {"x": {"field": "pos", "type": "quantitative"}, "y": {"field": "med", "type": "quantitative"}}},
      {"data": {"name": "D_box"},
       "mark": {"type": "tick", "orient": "horizontal", "color": "#444", "size": 23, "thickness": 1},
       "encoding": {"x": {"field": "pos", "type": "quantitative"}, "y": {"field": "max", "type": "quantitative"}}},
      {"data": {"name": "D_box"},
       "mark": {"type": "tick", "orient": "horizontal", "color": "#444", "size": 23, "thickness": 1},
       "encoding": {"x": {"field": "pos", "type": "quantitative"}, "y": {"field": "min", "type": "quantitative"}}},
      {"data": {"name": "D_pts"},
       "mark": {"type": "circle", "size": 5, "color": "#111", "opacity": 1},
       "encoding": {"x": {"field": "x", "type": "quantitative"}, "y": {"field": "value", "type": "quantitative"}}},
      {"data": {"values": [{}]},
       "mark": {"type": "text", "text": "D", "align": "left", "baseline": "alphabetic", "font": "Liberation Serif", "fontSize": 15, "color": "#231f20"},
       "encoding": {"x": {"datum": -0.8158}, "y": {"datum": 10.482}}}
    ]
  },
  {
    "width": 233, "height": 235,
    "layer": [
      {"data": {"name": "E_violin"},
       "mark": {"type": "area", "orient": "horizontal", "fill": "#e0e0e0", "stroke": "#231f20", "strokeWidth": 1},
       "encoding": {
         "y": {"field": "v", "type": "quantitative",
               "scale": {"domain": [5.524, 11.119], "range": [235, 47], "nice": false, "zero": false},
               "axis": {"values": [6, 7, 8, 9, 10, 11], "format": "d", "tickCount": 20, "labelAngle": 270, "labelAlign": "center", "labelBaseline": "bottom", "labelFont": "Liberation Sans", "labelFontSize": 8, "labelColor": "#333", "labelPadding": 3, "tickSize": 5, "domain": false, "title": "Relative lncRNA ZFAS1 expression", "titleFont": "Liberation Serif", "titleFontSize": 13, "titlePadding": 10}},
         "x": {"field": "left", "type": "quantitative",
               "scale": {"domain": [0.333, 4.615], "range": [0, 233], "nice": false, "zero": false},
               "axis": {"values": [1, 2, 3, 4], "tickCount": 20, "labelExpr": "['Stage I','Stage II','Stage III','Stage IV'][datum.value-1]", "labelFont": "Liberation Serif", "labelFontSize": 8.5, "labelColor": "#333", "labelPadding": 5, "tickSize": 5, "domain": false, "title": null}},
         "x2": {"field": "right"},
         "detail": {"field": "s"}
       }},
      {"data": {"name": "E_box"},
       "mark": {"type": "rule", "color": "#111", "strokeWidth": 1},
       "encoding": {"x": {"field": "s", "type": "quantitative"}, "y": {"field": "min", "type": "quantitative"}, "y2": {"field": "max"}}},
      {"data": {"name": "E_box"},
       "mark": {"type": "rule", "color": "#111", "strokeWidth": 5},
       "encoding": {"x": {"field": "s", "type": "quantitative"}, "y": {"field": "q1", "type": "quantitative"}, "y2": {"field": "q3"}}},
      {"data": {"name": "E_box"},
       "mark": {"type": "point", "filled": true, "color": "white", "size": 18, "opacity": 1},
       "encoding": {"x": {"field": "s", "type": "quantitative"}, "y": {"field": "med", "type": "quantitative"}}},
      {"data": {"values": [{}]},
       "mark": {"type": "rect", "fill": "transparent", "stroke": "#231f20", "strokeWidth": 1},
       "encoding": {"x": {"datum": 0.333}, "x2": {"datum": 4.615}, "y": {"datum": 5.524}, "y2": {"datum": 11.119}}},
      {"data": {"values": [{}]},
       "mark": {"type": "text", "text": ["F value = 2.13", "Pr(>F) = 0.0954"], "align": "right", "baseline": "middle", "lineHeight": 10, "font": "Liberation Serif", "fontSize": 9, "color": "#231f20"},
       "encoding": {"x": {"datum": 4.303}, "y": {"datum": 10.494}}},
      {"data": {"values": [{}]},
       "mark": {"type": "text", "text": "E", "align": "left", "baseline": "alphabetic", "font": "Liberation Serif", "fontSize": 15, "color": "#231f20"},
       "encoding": {"x": {"datum": 0.0205}, "y": {"datum": 11.774}}}
    ]
  },
  {
    "width": 214, "height": 235,
    "layer": [
      {"data": {"name": "F_lines"},
       "transform": [{"filter": "datum.b !== 'est'"}],
       "mark": {"type": "line", "interpolate": "step-after", "strokeWidth": 1.2, "strokeDash": [1.5, 2.5]},
       "encoding": {
         "x": {"field": "m", "type": "quantitative",
               "scale": {"domain": [0, 191], "nice": false, "zero": false},
               "axis": {"values": [0, 50, 100, 150], "format": "d", "tickCount": 20, "labelFont": "Liberation Serif", "labelFontSize": 9, "labelColor": "#333", "labelPadding": 7, "tickSize": 5, "domain": false, "title": "Months", "titleFont": "Liberation Serif", "titleFontSize": 12, "titlePadding": 4}},
         "y": {"field": "s", "type": "quantitative",
               "scale": {"domain": [-0.0425, 1.0462], "range": [235, 30], "nice": false, "zero": false},
               "axis": {"values": [0, 0.2, 0.4, 0.6, 0.8, 1.0], "tickCount": 20, "format": ".1f", "labelAngle": 270, "labelAlign": "center", "labelBaseline": "bottom", "labelFont": "Liberation Serif", "labelFontSize": 9, "labelColor": "#333", "labelPadding": 4, "tickSize": 5, "domain": false, "title": "Percent survival", "titleFont": "Liberation Serif", "titleFontSize": 11.5, "titlePadding": 7}},
         "color": {"field": "g", "type": "nominal", "scale": {"domain": ["Low", "High"], "range": ["#3a5fb8", "#e8342e"]}, "legend": null},
         "detail": {"field": "b"}
       }},
      {"data": {"name": "F_lines"},
       "transform": [{"filter": "datum.b === 'est'"}],
       "mark": {"type": "line", "interpolate": "step-after", "strokeWidth": 1.5},
       "encoding": {"x": {"field": "m", "type": "quantitative"}, "y": {"field": "s", "type": "quantitative"}, "color": {"field": "g", "type": "nominal"}}},
      {"data": {"name": "F_cens"},
       "mark": {"type": "point", "shape": "M0,-1L0,1M-0.6,0L0.6,0", "size": 60, "filled": false, "strokeWidth": 1.2, "opacity": 1},
       "encoding": {"x": {"field": "m", "type": "quantitative"}, "y": {"field": "s", "type": "quantitative"}, "color": {"field": "g", "type": "nominal"}}},
      {"data": {"values": [{}]},
       "mark": {"type": "rect", "fill": "transparent", "stroke": "#231f20", "strokeWidth": 1},
       "encoding": {"x": {"datum": 0}, "x2": {"datum": 191}, "y": {"datum": -0.0425}, "y2": {"datum": 1.0462}}},
      {"data": {"values": [{}]},
       "mark": {"type": "rule", "color": "#3a5fb8", "strokeWidth": 1.5},
       "encoding": {"x": {"datum": 107.8}, "x2": {"datum": 122.7}, "y": {"datum": 0.993}}},
      {"data": {"values": [{}]},
       "mark": {"type": "rule", "color": "#e8342e", "strokeWidth": 1.5},
       "encoding": {"x": {"datum": 107.8}, "x2": {"datum": 122.7}, "y": {"datum": 0.945}}},
      {"data": {"values": [{}]},
       "mark": {"type": "text", "text": "Low ZFAS1 TPM", "align": "left", "baseline": "middle", "font": "Liberation Serif", "fontSize": 9.5, "color": "#231f20"},
       "encoding": {"x": {"datum": 125.6}, "y": {"datum": 0.993}}},
      {"data": {"values": [{}]},
       "mark": {"type": "text", "text": "High ZFAS1 TPM", "align": "left", "baseline": "middle", "font": "Liberation Serif", "fontSize": 9.5, "color": "#231f20"},
       "encoding": {"x": {"datum": 125.6}, "y": {"datum": 0.945}}},
      {"data": {"values": [{}]},
       "mark": {"type": "text", "text": ["Logrank p=0.082", "HR(high)=1.4", "p(HR)=0.084", "n(high)=156", "n(low)=156"], "align": "right", "baseline": "middle", "lineHeight": 8.8, "font": "Liberation Serif", "fontSize": 9.5, "color": "#231f20"},
       "encoding": {"x": {"datum": 184.3}, "y": {"datum": 0.8083}}},
      {"data": {"values": [{}]},
       "mark": {"type": "text", "text": "Overall Survival", "align": "center", "baseline": "middle", "font": "Liberation Serif", "fontSize": 13, "color": "#231f20"},
       "encoding": {"x": {"datum": 92.6}, "y": {"datum": 1.0834}}},
      {"data": {"values": [{}]},
       "mark": {"type": "text", "text": "F", "align": "left", "baseline": "alphabetic", "font": "Liberation Serif", "fontSize": 15, "color": "#231f20"},
       "encoding": {"x": {"datum": -35.67}, "y": {"datum": 1.0728}}}
    ]
  },
  {
    "width": 217, "height": 243,
    "layer": [
      {"data": {"name": "G_lines"},
       "transform": [{"filter": "datum.b !== 'est'"}],
       "mark": {"type": "line", "interpolate": "step-after", "strokeWidth": 1.2, "strokeDash": [1.5, 2.5]},
       "encoding": {
         "x": {"field": "m", "type": "quantitative",
               "scale": {"domain": [0, 191.5], "nice": false, "zero": false},
               "axis": {"values": [0, 50, 100, 150], "format": "d", "tickCount": 20, "labelFont": "Liberation Serif", "labelFontSize": 9, "labelColor": "#333", "labelPadding": 7, "tickSize": 5, "domain": false, "title": "Months", "titleFont": "Liberation Serif", "titleFontSize": 12, "titlePadding": 2.5}},
         "y": {"field": "s", "type": "quantitative",
               "scale": {"domain": [-0.0368, 1.021], "range": [243, 42], "nice": false, "zero": false},
               "axis": {"values": [0, 0.2, 0.4, 0.6, 0.8, 1.0], "tickCount": 20, "format": ".1f", "labelAngle": 270, "labelAlign": "center", "labelBaseline": "bottom", "labelFont": "Liberation Serif", "labelFontSize": 9, "labelColor": "#333", "labelPadding": 7, "tickSize": 5, "domain": false, "title": "Percent survival", "titleFont": "Liberation Serif", "titleFontSize": 12, "titlePadding": 5}},
         "color": {"field": "g", "type": "nominal", "scale": {"domain": ["Low", "High"], "range": ["#3a5fb8", "#e8342e"]}, "legend": null},
         "detail": {"field": "b"}
       }},
      {"data": {"name": "G_lines"},
       "transform": [{"filter": "datum.b === 'est'"}],
       "mark": {"type": "line", "interpolate": "step-after", "strokeWidth": 1.5},
       "encoding": {"x": {"field": "m", "type": "quantitative"}, "y": {"field": "s", "type": "quantitative"}, "color": {"field": "g", "type": "nominal"}}},
      {"data": {"name": "G_cens"},
       "mark": {"type": "point", "shape": "M0,-1L0,1M-0.6,0L0.6,0", "size": 60, "filled": false, "strokeWidth": 1.2, "opacity": 1},
       "encoding": {"x": {"field": "m", "type": "quantitative"}, "y": {"field": "s", "type": "quantitative"}, "color": {"field": "g", "type": "nominal"}}},
      {"data": {"values": [{}]},
       "mark": {"type": "rect", "fill": "transparent", "stroke": "#231f20", "strokeWidth": 1},
       "encoding": {"x": {"datum": 0}, "x2": {"datum": 191.5}, "y": {"datum": -0.0368}, "y2": {"datum": 1.021}}},
      {"data": {"values": [{}]},
       "mark": {"type": "rule", "color": "#3a5fb8", "strokeWidth": 1.5},
       "encoding": {"x": {"datum": 107.3}, "x2": {"datum": 122.9}, "y": {"datum": 0.991}}},
      {"data": {"values": [{}]},
       "mark": {"type": "rule", "color": "#e8342e", "strokeWidth": 1.5},
       "encoding": {"x": {"datum": 107.3}, "x2": {"datum": 122.9}, "y": {"datum": 0.947}}},
      {"data": {"values": [{}]},
       "mark": {"type": "text", "text": "Low ZFAS1 TPM", "align": "left", "baseline": "middle", "font": "Liberation Sans", "fontSize": 9, "color": "#231f20"},
       "encoding": {"x": {"datum": 125.3}, "y": {"datum": 0.991}}},
      {"data": {"values": [{}]},
       "mark": {"type": "text", "text": "High ZFAS1 TPM", "align": "left", "baseline": "middle", "font": "Liberation Sans", "fontSize": 9, "color": "#231f20"},
       "encoding": {"x": {"datum": 125.3}, "y": {"datum": 0.947}}},
      {"data": {"values": [{}]},
       "mark": {"type": "text", "text": ["Logrank p=0.046", "HR(high)=1.5", "p(HR)=0.047", "n(high)=156", "n(low)=156"], "align": "right", "baseline": "middle", "lineHeight": 8.5, "font": "Liberation Sans", "fontSize": 9, "color": "#231f20"},
       "encoding": {"x": {"datum": 186.2}, "y": {"datum": 0.7995}}},
      {"data": {"values": [{}]},
       "mark": {"type": "text", "text": "Disease Free Survival", "align": "center", "baseline": "middle", "font": "Liberation Serif", "fontSize": 13.5, "color": "#231f20"},
       "encoding": {"x": {"datum": 89.4}, "y": {"datum": 1.0895}}},
      {"data": {"values": [{}]},
       "mark": {"type": "text", "text": "G", "align": "left", "baseline": "alphabetic", "font": "Liberation Serif", "fontSize": 15, "color": "#231f20"},
       "encoding": {"x": {"datum": -34.4}, "y": {"datum": 1.0947}}}
    ]
  },
  {
    "width": 257, "height": 222,
    "data": {"name": "H"},
    "layer": [
      {"mark": {"type": "bar", "width": 10.7, "stroke": "#3a3a3a", "strokeWidth": 1.2},
       "encoding": {
         "x": {"field": "pos", "type": "quantitative",
               "scale": {"domain": [0.237, 12.743], "range": [67, 370], "nice": false, "zero": false},
               "axis": {"title": null, "values": [1, 2, 3, 4, 5, 6, 7, 8, 9, 10, 11, 12], "tickCount": 40, "labelOverlap": false, "labelExpr": "['NP69','N2tert','HONE-1','CNE-1','CNE-2','HNE-1','C666-1','HK-1','S26','S18','SUNE-1','6-10B'][datum.value-1]", "labelAngle": -71, "labelAlign": "right", "labelBaseline": "middle", "labelFont": "Liberation Serif", "labelFontStyle": "italic", "labelFontSize": 12.5, "labelPadding": 3, "tickSize": 4, "tickWidth": 1.5, "domainWidth": 1.5}},
         "y": {"field": "value", "type": "quantitative",
               "scale": {"domain": [0, 6], "range": [222, 48], "nice": false, "zero": false},
               "axis": {"title": "Relative lncRNA ZFAS1 expression", "titleFont": "Liberation Serif", "titleFontSize": 12, "titlePadding": 11.5, "values": [0, 2, 4, 6], "format": "d", "tickCount": 20, "labelOverlap": false, "labelFont": "Liberation Sans", "labelFontWeight": "bold", "labelFontSize": 12, "tickSize": 11, "tickWidth": 1.5, "domainWidth": 1.5, "labelPadding": 7, "offset": -67}},
         "color": {"field": "line", "type": "nominal", "legend": null,
                   "scale": {"domain": ["NP69", "N2tert", "HONE-1", "CNE-1", "CNE-2", "HNE-1", "C666-1", "HK-1", "S26", "S18", "SUNE-1", "6-10B"],
                             "range": ["#231815", "#9d9ea3", "#7e7f83", "#d3d3d3", "#5b5c5f", "#9d9ea3", "#5b5c5f", "#ececec", "#9d9ea3", "#231815", "#9d9ea3", "#7e7f83"]}}
       }},
      {"mark": {"type": "rule", "color": "#3a3a3a", "strokeWidth": 1.5},
       "encoding": {"x": {"field": "pos", "type": "quantitative"}, "y": {"field": "value", "type": "quantitative"}, "y2": {"field": "err"}}},
      {"mark": {"type": "tick", "orient": "horizontal", "color": "#3a3a3a", "size": 12, "thickness": 1.5},
       "encoding": {"x": {"field": "pos", "type": "quantitative"}, "y": {"field": "err", "type": "quantitative"}}},
      {"mark": {"type": "text", "font": "Liberation Serif", "fontSize": 13, "color": "#666", "baseline": "middle", "dy": -8},
       "encoding": {"x": {"field": "pos", "type": "quantitative"}, "y": {"field": "err", "type": "quantitative"}, "text": {"field": "sig"}}},
      {"data": {"values": [{}]},
       "mark": {"type": "text", "text": "H", "align": "left", "baseline": "alphabetic", "font": "Liberation Serif", "fontSize": 15, "color": "#231f20"},
       "encoding": {"x": {"datum": -2.774}, "y": {"datum": 6.69}}}
    ]
  }
]
}
